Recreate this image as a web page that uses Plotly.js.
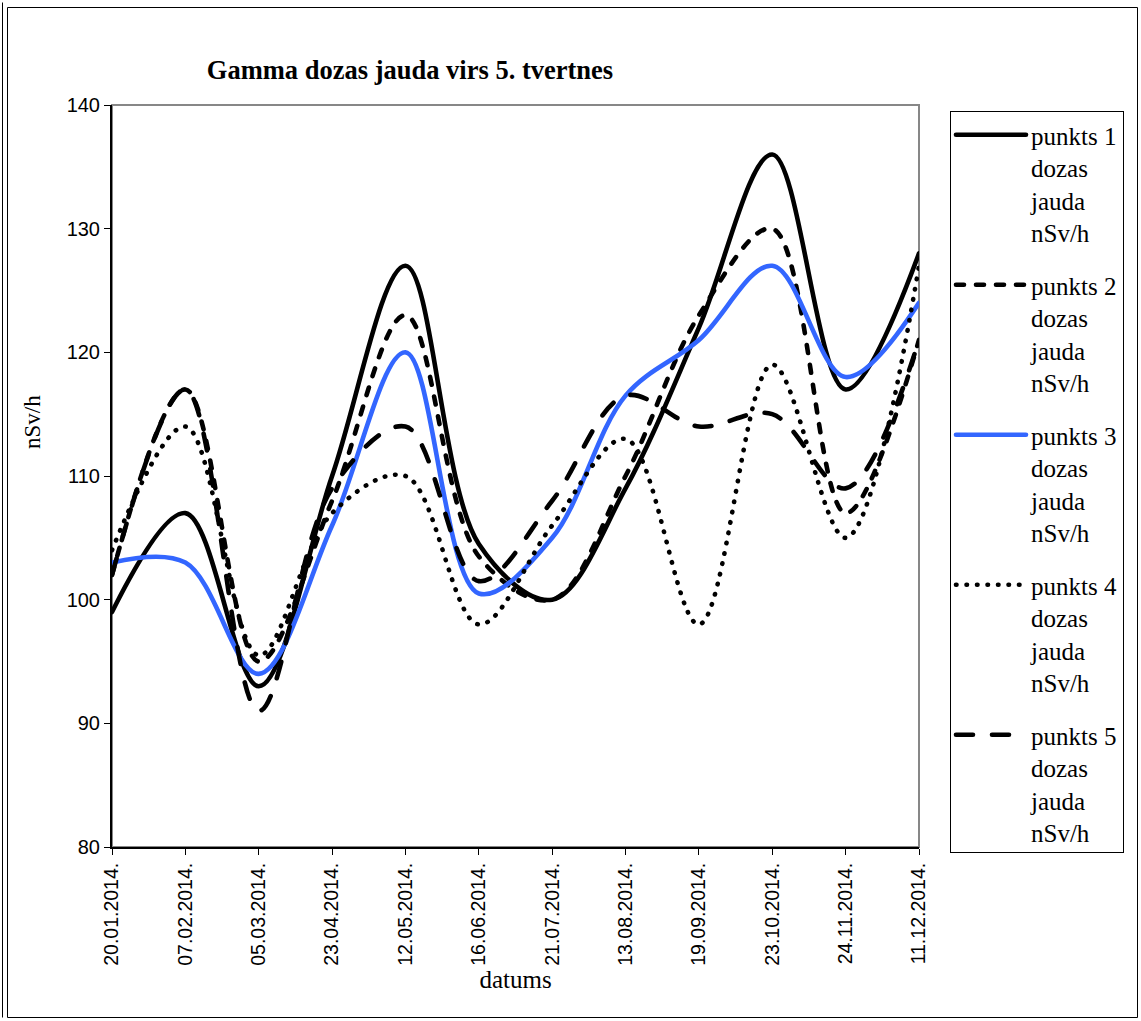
<!DOCTYPE html>
<html>
<head>
<meta charset="utf-8">
<script src="https://cdn.plot.ly/plotly-3.0.1.min.js"></script>
<style>
  html, body { margin: 0; padding: 0; background: #fff; }
  #chart { width: 1141px; height: 1021px; }
  .scatterlayer path.js-line, .legendlines path { stroke-linecap: round !important; stroke-linejoin: round !important; }
</style>
</head>
<body>
<div id="chart"></div>
<script>
const categories = ['20.01.2014.','07.02.2014.','05.03.2014.','23.04.2014.','12.05.2014.','16.06.2014.','21.07.2014.','13.08.2014.','19.09.2014.','23.10.2014.','24.11.2014.','11.12.2014.'];
const punkts1 = [99, 107, 93, 110, 127, 104.5, 100, 109, 122, 136, 117, 128];
const punkts2 = [102, 117, 95, 108, 123, 103.5, 100, 110, 123, 130, 107, 121];
const punkts3 = [103, 103, 94, 106, 120, 100.5, 105, 116.5, 121, 127, 118, 124];
const punkts4 = [104, 114, 95.5, 107, 110, 98, 106, 113, 98, 119, 105, 127];
const punkts5 = [102, 117, 91, 109, 114, 101.5, 108, 116.5, 114, 115, 109, 121];
const seriesNames = ['punkts 1<br>dozas<br>jauda<br>nSv/h','punkts 2<br>dozas<br>jauda<br>nSv/h','punkts 3<br>dozas<br>jauda<br>nSv/h','punkts 4<br>dozas<br>jauda<br>nSv/h','punkts 5<br>dozas<br>jauda<br>nSv/h'];
const yTicks = [80, 90, 100, 110, 120, 130, 140];

const SERIF = 'Liberation Serif';
const SANS = 'Liberation Sans';

const styles = [
  {color:'#000000', dash:'solid'},
  {color:'#000000', dash:'8px,12px'},
  {color:'#3366ff', dash:'solid'},
  {color:'#000000', dash:'0.5px,10px'},
  {color:'#000000', dash:'17px,19px'}
];
const allSeries = [punkts1, punkts2, punkts3, punkts4, punkts5];

const traces = allSeries.map((vals, i) => ({
  type:'scatter', mode:'lines', x: categories, y: vals, name: seriesNames[i],
  legendgroup: 'g' + i,
  line: {color: styles[i].color, width: 4.6, dash: styles[i].dash, shape:'spline', smoothing: 1},
  hoverinfo:'skip'
}));

const W = 1141, H = 1021, L = 112, R = 919, T = 105, B = 847;
const px = v => (v - L) / (R - L);
const py = v => (B - v) / (B - T);

const layout = {
  width: W, height: H,
  margin: {l: L, r: W - R, t: T, b: H - B, pad: 0},
  font: {family: SERIF, color:'#000'},
  paper_bgcolor:'#ffffff', plot_bgcolor:'#ffffff',
  showlegend: true,
  title: {text:'<b>Gamma dozas jauda virs 5. tvertnes</b>', font:{family:SERIF, size:26.5, color:'#000'},
          xref:'container', yref:'container', x: 410/W, xanchor:'center', y: 1 - 70/H, yanchor:'middle'},
  xaxis: {type:'category', categoryorder:'array', categoryarray: categories, range:[0, 11],
          tickangle:-90, ticks:'outside', ticklen:6, tickwidth:1, tickcolor:'#000',
          showline:true, linecolor:'#000', linewidth:2, showgrid:false, zeroline:false,
          tickfont:{family:SANS, size:19.5, color:'#000'},
          title:{text:'datums', font:{family:SERIF, size:25, color:'#000'}, standoff:0},
          fixedrange:true},
  yaxis: {range:[80, 140], tickvals: yTicks, ticktext: yTicks.map(String), ticks:'outside', ticklen:6, tickwidth:1, tickcolor:'#000',
          showline:true, linecolor:'#000', linewidth:2, showgrid:false, zeroline:false,
          tickfont:{family:SANS, size:20, color:'#000'}, fixedrange:true},
  xaxis2: {overlaying:'x', anchor:'y', side:'bottom', range:[0, 11], tick0:0, dtick:1, ticks:'inside', ticklen:6, tickwidth:1, tickcolor:'#000',
           showticklabels:false, showline:false, showgrid:false, zeroline:false},
  yaxis2: {overlaying:'y', anchor:'x', side:'left', range:[80, 140], tick0:80, dtick:10, ticks:'inside', ticklen:6, tickwidth:1, tickcolor:'#000',
           showticklabels:false, showline:false, showgrid:false, zeroline:false},
  legend: {x: px(950), xanchor:'left', y: py(111), yanchor:'top', bgcolor:'#fff', bordercolor:'#000', borderwidth:1,
           font:{family:SERIF, size:25, color:'#000'}, itemwidth:70, valign:'top', tracegroupgap:17, traceorder:'grouped'},
  annotations: [
    {text:'nSv/h', xref:'paper', yref:'paper', x: px(33), y: py(422), textangle:-90, showarrow:false,
     font:{family:SERIF, size:23, color:'#000'}, xanchor:'center', yanchor:'middle'}
  ],
  shapes: [
    {type:'rect', xref:'paper', yref:'paper', x0:0, x1:1, y0:0, y1:1, line:{color:'#878787', width:2}, layer:'below'},
    {type:'rect', xref:'paper', yref:'paper', x0:px(7.5), x1:px(1137.5), y0:py(1017.5), y1:py(7.5), line:{color:'#000', width:1}, layer:'below'},
    {type:'line', xref:'paper', yref:'paper', x0:px(2.5), x1:px(2.5), y0:py(1017.5), y1:py(2.5), line:{color:'#000', width:1}, layer:'below'}
  ]
};

Plotly.newPlot('chart', traces, layout, {displayModeBar:false, staticPlot:true});
</script>
</body>
</html>
